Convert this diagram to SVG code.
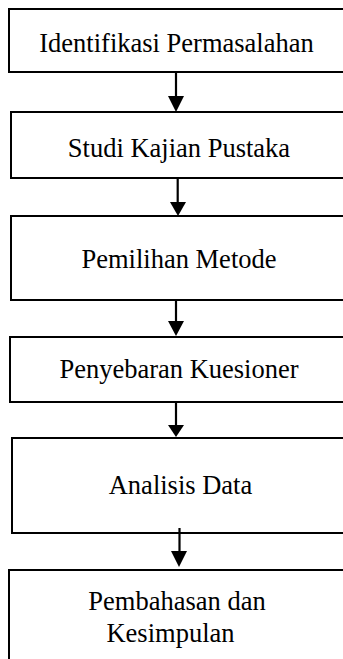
<svg xmlns="http://www.w3.org/2000/svg" width="343" height="659" viewBox="0 0 343 659">
<style>
.box{fill:#fff;stroke:#000;stroke-width:2}
.lbl{font-family:"Liberation Serif","Times New Roman",serif;font-size:26.5px;fill:#000;text-anchor:middle}
.edge{stroke:#000;stroke-width:2.2;fill:none}
.head{fill:#000}
</style>
<rect width="343" height="659" fill="#fff"/>
<g id="n1"><rect class="box" x="9" y="9" width="345" height="63"/><text class="lbl" x="176.5" y="51.5">Identifikasi Permasalahan</text></g>
<g id="n2"><rect class="box" x="11" y="112" width="345" height="66"/><text class="lbl" x="179" y="157">Studi Kajian Pustaka</text></g>
<g id="n3"><rect class="box" x="11" y="216" width="345" height="84"/><text class="lbl" x="179" y="268">Pemilihan Metode</text></g>
<g id="n4"><rect class="box" x="10" y="337" width="345" height="65"/><text class="lbl" x="179" y="378">Penyebaran Kuesioner</text></g>
<g id="n5"><rect class="box" x="12" y="438" width="345" height="95"/><text class="lbl" x="180.5" y="494">Analisis Data</text></g>
<g id="n6"><rect class="box" x="9" y="570" width="345" height="100"/><text class="lbl" x="177" y="610">Pembahasan dan</text><text class="lbl" x="170.5" y="642">Kesimpulan</text></g>
<g id="edges">
<line class="edge" x1="176" y1="72" x2="176" y2="97"/><polygon class="head" points="168,96 184,96 176,112"/>
<line class="edge" x1="177.7" y1="178" x2="177.7" y2="203"/><polygon class="head" points="170,202 186,202 178,216"/>
<line class="edge" x1="176" y1="300" x2="176" y2="322"/><polygon class="head" points="168,321 184,321 176,336"/>
<line class="edge" x1="176" y1="402" x2="176" y2="426"/><polygon class="head" points="168,425 184,425 176,437"/>
<line class="edge" x1="179.5" y1="528" x2="179.5" y2="552"/><polygon class="head" points="171,551 187,551 179,567"/>
</g>
</svg>
